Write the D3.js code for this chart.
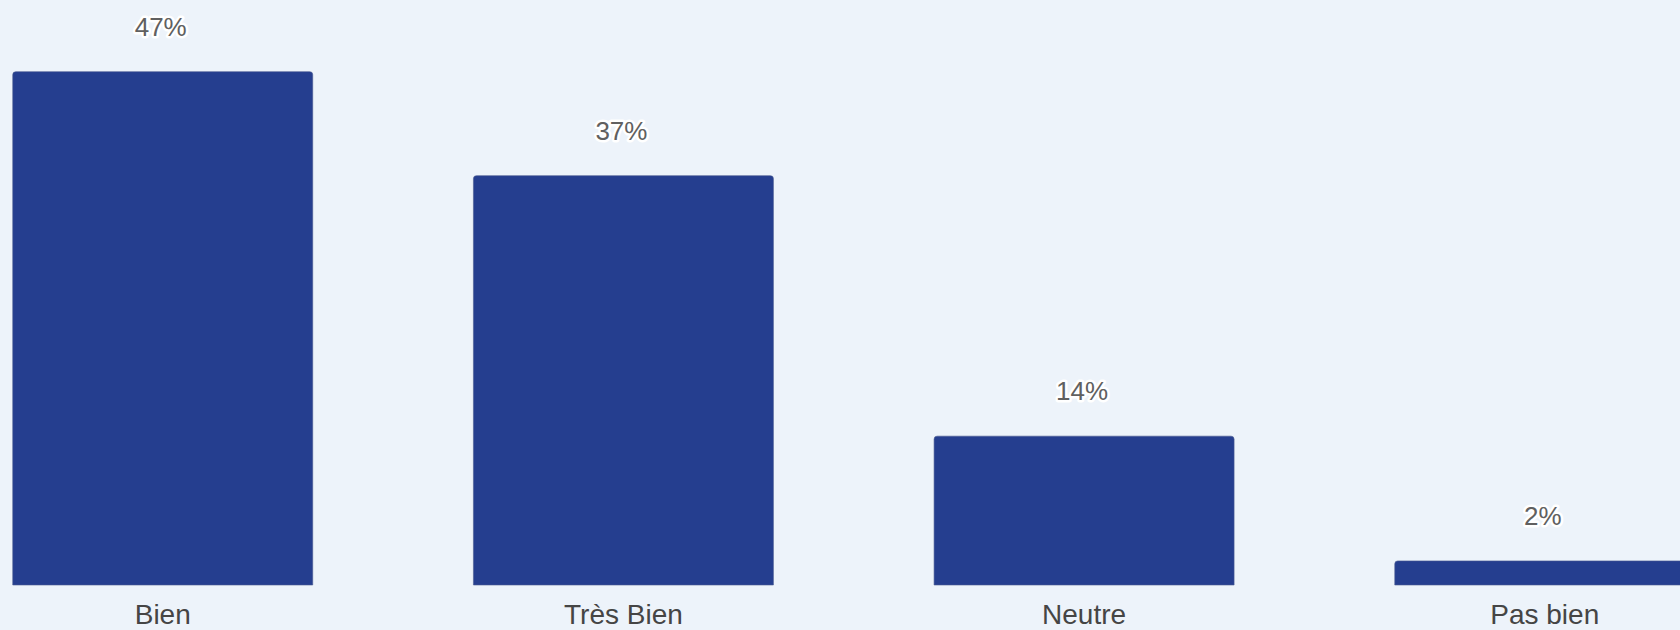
<!DOCTYPE html>
<html>
<head>
<meta charset="utf-8">
<script src="https://cdn.jsdelivr.net/npm/d3@7"></script>
<style>
  html, body { margin: 0; padding: 0; background: #EDF3FA; overflow: hidden; }
  svg { display: block; }
</style>
</head>
<body>
<svg id="chart" width="1680" height="630"></svg>
<script>
const categories = ["Bien", "Très Bien", "Neutre", "Pas bien"];
const values = [46.9, 37.4, 13.6, 2.2];
const valueLabels = ["47%", "37%", "14%", "2%"];

const W = 1680, H = 630;
const svg = d3.select("#chart");
svg.append("rect").attr("width", W).attr("height", H).attr("fill", "#EDF3FA");

const pInner = 0.3488;
const x = d3.scaleBand()
  .domain(categories)
  .range([-67.6, 1775.1])
  .paddingInner(pInner)
  .paddingOuter(pInner / 2);

const y = d3.scaleLinear().domain([0, 50]).range([585, 37.75]);

const data = categories.map((c, i) => ({ c, v: values[i], label: valueLabels[i] }));

function topRounded(x0, y0, w, h, r) {
  r = Math.min(r, h, w / 2);
  return `M${x0},${y0 + h}V${y0 + r}Q${x0},${y0} ${x0 + r},${y0}H${x0 + w - r}Q${x0 + w},${y0} ${x0 + w},${y0 + r}V${y0 + h}Z`;
}

svg.append("g").selectAll("path").data(data).join("path")
  .attr("d", d => topRounded(x(d.c), y(d.v), x.bandwidth(), y(0) - y(d.v), 3))
  .attr("fill", "#253E8F")
  .attr("stroke", "#4a5a90")
  .attr("stroke-width", 0.6);

svg.append("g").selectAll("text").data(data).join("text")
  .attr("x", d => x(d.c) + x.bandwidth() / 2 - 2)
  .attr("y", d => y(d.v) - 36)
  .attr("text-anchor", "middle")
  .attr("font-family", "Arial, 'Liberation Sans', sans-serif")
  .attr("font-size", 26)
  .attr("fill", "#606060")
  .attr("stroke", "#ffffff")
  .attr("stroke-width", 5)
  .attr("stroke-linejoin", "round")
  .attr("paint-order", "stroke")
  .text(d => d.label);

svg.append("g").selectAll("text").data(data).join("text")
  .attr("x", d => x(d.c) + x.bandwidth() / 2)
  .attr("y", 624)
  .attr("text-anchor", "middle")
  .attr("font-family", "Arial, 'Liberation Sans', sans-serif")
  .attr("font-size", 28)
  .attr("fill", "#454545")
  .text(d => d.c);
</script>
</body>
</html>
